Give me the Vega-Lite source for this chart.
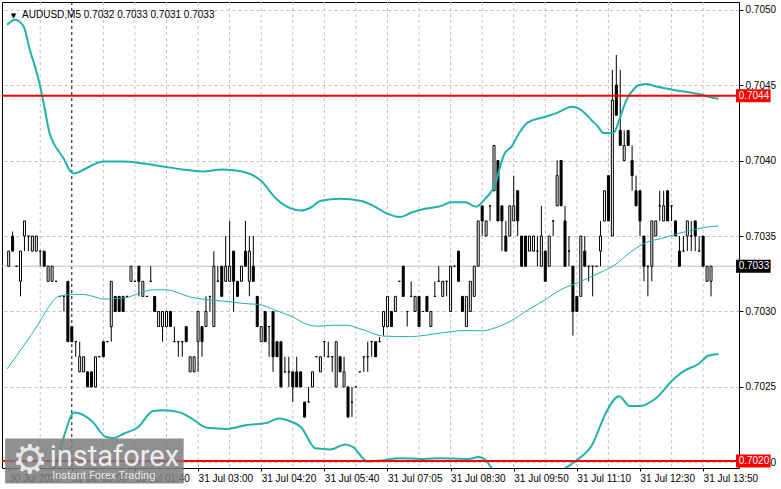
{
  "$schema": "https://vega.github.io/schema/vega-lite/v6.json",
  "width": 737,
  "height": 466,
  "autosize": "none",
  "padding": {"left": 2, "top": 2, "right": 42, "bottom": 21},
  "background": "white",
  "config": {
    "font": "Liberation Sans",
    "view": {"stroke": "black", "strokeWidth": 1, "fill": "white"},
    "axis": {"labelFont": "Liberation Sans", "labelFontSize": 10, "labelColor": "black", "tickColor": "black", "domainColor": "black", "title": null}
  },
  "datasets": {
    "candles": [
      {"i":-16,"o":0.7033,"h":0.7034,"l":0.7033,"c":0.7034},
      {"i":-15,"o":0.7035,"h":0.70353,"l":0.7034,"c":0.7034},
      {"i":-14,"o":0.7033,"h":0.7033,"l":0.7033,"c":0.7033},
      {"i":-13,"o":0.7032,"h":0.7034,"l":0.7031,"c":0.7034},
      {"i":-12,"o":0.7035,"h":0.7036,"l":0.7034,"c":0.7036},
      {"i":-11,"o":0.7035,"h":0.7035,"l":0.7034,"c":0.7035},
      {"i":-10,"o":0.7034,"h":0.7035,"l":0.7034,"c":0.7035},
      {"i":-9,"o":0.7034,"h":0.7035,"l":0.7034,"c":0.7035},
      {"i":-8,"o":0.7034,"h":0.7034,"l":0.7033,"c":0.7034},
      {"i":-7,"o":0.7034,"h":0.7034,"l":0.7033,"c":0.7033},
      {"i":-6,"o":0.7032,"h":0.7033,"l":0.7032,"c":0.7033},
      {"i":-5,"o":0.7032,"h":0.7033,"l":0.7032,"c":0.7033},
      {"i":-4,"o":0.7032,"h":0.7032,"l":0.7032,"c":0.7032},
      {"i":-3,"o":0.7031,"h":0.7031,"l":0.7031,"c":0.7031},
      {"i":-2,"o":0.7031,"h":0.7031,"l":0.7030,"c":0.7031},
      {"i":-1,"o":0.7032,"h":0.7032,"l":0.7028,"c":0.7028},
      {"i":0,"o":0.7029,"h":0.7029,"l":0.7028,"c":0.7028},
      {"i":1,"o":0.7028,"h":0.7028,"l":0.7027,"c":0.7028},
      {"i":2,"o":0.7026,"h":0.7028,"l":0.7026,"c":0.7027},
      {"i":3,"o":0.7026,"h":0.7027,"l":0.7026,"c":0.7027},
      {"i":4,"o":0.7026,"h":0.7026,"l":0.7025,"c":0.7025},
      {"i":5,"o":0.7026,"h":0.7026,"l":0.7025,"c":0.7025},
      {"i":6,"o":0.7025,"h":0.7027,"l":0.7025,"c":0.7027},
      {"i":7,"o":0.7027,"h":0.7027,"l":0.7027,"c":0.7027},
      {"i":8,"o":0.7028,"h":0.7028,"l":0.7027,"c":0.7027},
      {"i":9,"o":0.7028,"h":0.7028,"l":0.7028,"c":0.7028},
      {"i":10,"o":0.7029,"h":0.7032,"l":0.7028,"c":0.7032},
      {"i":11,"o":0.7031,"h":0.7031,"l":0.7030,"c":0.7030},
      {"i":12,"o":0.7031,"h":0.7031,"l":0.7030,"c":0.7030},
      {"i":13,"o":0.7031,"h":0.7031,"l":0.7030,"c":0.7030},
      {"i":14,"o":0.7031,"h":0.7031,"l":0.7031,"c":0.7031},
      {"i":15,"o":0.7032,"h":0.7033,"l":0.7032,"c":0.7033},
      {"i":16,"o":0.7032,"h":0.7032,"l":0.7032,"c":0.7032},
      {"i":17,"o":0.7033,"h":0.7033,"l":0.7031,"c":0.7032},
      {"i":18,"o":0.7031,"h":0.7032,"l":0.7031,"c":0.7032},
      {"i":19,"o":0.7031,"h":0.7031,"l":0.7031,"c":0.7031},
      {"i":20,"o":0.7032,"h":0.7033,"l":0.7032,"c":0.7032},
      {"i":21,"o":0.7031,"h":0.7031,"l":0.7030,"c":0.7030},
      {"i":22,"o":0.7029,"h":0.7030,"l":0.7029,"c":0.7030},
      {"i":23,"o":0.7029,"h":0.7030,"l":0.7028,"c":0.7030},
      {"i":24,"o":0.7029,"h":0.7030,"l":0.7029,"c":0.7030},
      {"i":25,"o":0.7030,"h":0.7030,"l":0.7029,"c":0.7029},
      {"i":26,"o":0.7028,"h":0.7029,"l":0.7028,"c":0.7028},
      {"i":27,"o":0.7028,"h":0.7028,"l":0.7027,"c":0.7028},
      {"i":28,"o":0.7028,"h":0.7028,"l":0.7027,"c":0.7028},
      {"i":29,"o":0.7029,"h":0.7029,"l":0.7028,"c":0.7028},
      {"i":30,"o":0.7026,"h":0.7027,"l":0.7026,"c":0.7027},
      {"i":31,"o":0.7026,"h":0.7027,"l":0.7026,"c":0.7027},
      {"i":32,"o":0.7028,"h":0.7030,"l":0.7026,"c":0.7030},
      {"i":33,"o":0.7029,"h":0.7029,"l":0.7027,"c":0.7028},
      {"i":34,"o":0.7029,"h":0.7031,"l":0.7029,"c":0.7030},
      {"i":35,"o":0.7031,"h":0.7031,"l":0.7030,"c":0.7031},
      {"i":36,"o":0.7029,"h":0.7034,"l":0.7029,"c":0.7033},
      {"i":37,"o":0.7032,"h":0.7033,"l":0.7032,"c":0.7032},
      {"i":38,"o":0.7033,"h":0.7033,"l":0.7031,"c":0.7031},
      {"i":39,"o":0.7032,"h":0.7035,"l":0.7032,"c":0.7033},
      {"i":40,"o":0.7032,"h":0.7036,"l":0.7032,"c":0.7033},
      {"i":41,"o":0.7034,"h":0.7034,"l":0.7030,"c":0.7032},
      {"i":42,"o":0.7032,"h":0.7032,"l":0.7031,"c":0.7031},
      {"i":43,"o":0.7032,"h":0.7033,"l":0.7032,"c":0.7033},
      {"i":44,"o":0.7034,"h":0.7036,"l":0.7033,"c":0.7033},
      {"i":45,"o":0.7032,"h":0.7035,"l":0.7031,"c":0.7034},
      {"i":46,"o":0.7033,"h":0.7035,"l":0.7032,"c":0.7032},
      {"i":47,"o":0.7031,"h":0.7031,"l":0.7029,"c":0.7029},
      {"i":48,"o":0.7028,"h":0.7029,"l":0.7028,"c":0.7029},
      {"i":49,"o":0.7030,"h":0.7030,"l":0.7028,"c":0.7028},
      {"i":50,"o":0.7029,"h":0.7029,"l":0.7027,"c":0.7029},
      {"i":51,"o":0.7030,"h":0.7030,"l":0.7026,"c":0.7027},
      {"i":52,"o":0.7028,"h":0.7028,"l":0.7027,"c":0.7027},
      {"i":53,"o":0.7028,"h":0.7028,"l":0.7025,"c":0.7025},
      {"i":54,"o":0.7026,"h":0.7027,"l":0.7026,"c":0.7026},
      {"i":55,"o":0.7026,"h":0.7027,"l":0.7025,"c":0.7026},
      {"i":56,"o":0.7026,"h":0.7026,"l":0.7024,"c":0.7025},
      {"i":57,"o":0.7026,"h":0.7027,"l":0.7025,"c":0.7025},
      {"i":58,"o":0.7026,"h":0.7026,"l":0.7025,"c":0.7025},
      {"i":59,"o":0.7024,"h":0.7024,"l":0.7023,"c":0.7023},
      {"i":60,"o":0.7024,"h":0.7025,"l":0.7024,"c":0.7024},
      {"i":61,"o":0.7025,"h":0.7026,"l":0.7025,"c":0.7026},
      {"i":62,"o":0.7027,"h":0.7027,"l":0.7027,"c":0.7027},
      {"i":63,"o":0.7026,"h":0.7027,"l":0.7026,"c":0.7027},
      {"i":64,"o":0.7028,"h":0.7028,"l":0.7027,"c":0.7028},
      {"i":65,"o":0.7027,"h":0.7028,"l":0.7027,"c":0.7027},
      {"i":66,"o":0.7027,"h":0.7027,"l":0.7026,"c":0.7027},
      {"i":67,"o":0.7025,"h":0.7028,"l":0.7025,"c":0.7028},
      {"i":68,"o":0.7027,"h":0.7027,"l":0.7026,"c":0.7026},
      {"i":69,"o":0.7025,"h":0.7027,"l":0.7025,"c":0.7026},
      {"i":70,"o":0.7025,"h":0.7025,"l":0.7023,"c":0.7023},
      {"i":71,"o":0.7024,"h":0.7025,"l":0.7023,"c":0.7024},
      {"i":72,"o":0.7025,"h":0.7025,"l":0.7025,"c":0.7025},
      {"i":73,"o":0.7026,"h":0.7026,"l":0.7026,"c":0.7026},
      {"i":74,"o":0.7027,"h":0.7027,"l":0.7026,"c":0.7027},
      {"i":75,"o":0.7027,"h":0.7028,"l":0.7026,"c":0.7027},
      {"i":76,"o":0.7028,"h":0.7028,"l":0.7027,"c":0.7028},
      {"i":77,"o":0.7028,"h":0.7028,"l":0.7027,"c":0.7027},
      {"i":78,"o":0.7028,"h":0.70283,"l":0.7028,"c":0.7028},
      {"i":79,"o":0.7029,"h":0.7030,"l":0.70284,"c":0.7030},
      {"i":80,"o":0.7029,"h":0.7031,"l":0.7029,"c":0.7031},
      {"i":81,"o":0.7030,"h":0.7030,"l":0.7029,"c":0.7029},
      {"i":82,"o":0.7030,"h":0.7031,"l":0.7030,"c":0.7031},
      {"i":83,"o":0.7032,"h":0.7032,"l":0.7032,"c":0.7032},
      {"i":84,"o":0.7033,"h":0.7033,"l":0.7031,"c":0.7031},
      {"i":85,"o":0.7030,"h":0.7030,"l":0.7029,"c":0.7030},
      {"i":86,"o":0.7031,"h":0.7032,"l":0.7031,"c":0.7031},
      {"i":87,"o":0.7030,"h":0.7031,"l":0.7030,"c":0.7031},
      {"i":88,"o":0.7031,"h":0.7031,"l":0.7029,"c":0.7029},
      {"i":89,"o":0.7030,"h":0.7030,"l":0.7030,"c":0.7030},
      {"i":90,"o":0.7031,"h":0.7031,"l":0.7030,"c":0.7030},
      {"i":91,"o":0.7029,"h":0.7030,"l":0.7029,"c":0.7030},
      {"i":92,"o":0.7031,"h":0.7032,"l":0.7031,"c":0.7031},
      {"i":93,"o":0.7032,"h":0.7033,"l":0.7032,"c":0.7032},
      {"i":94,"o":0.7031,"h":0.7032,"l":0.7031,"c":0.7032},
      {"i":95,"o":0.7032,"h":0.7032,"l":0.7031,"c":0.7032},
      {"i":96,"o":0.7030,"h":0.7033,"l":0.7030,"c":0.7033},
      {"i":97,"o":0.7033,"h":0.7033,"l":0.7033,"c":0.7033},
      {"i":98,"o":0.7034,"h":0.7034,"l":0.7032,"c":0.7032},
      {"i":99,"o":0.7031,"h":0.7031,"l":0.7030,"c":0.7030},
      {"i":100,"o":0.7029,"h":0.7031,"l":0.7029,"c":0.7031},
      {"i":101,"o":0.7030,"h":0.7032,"l":0.7030,"c":0.7032},
      {"i":102,"o":0.7031,"h":0.7033,"l":0.7031,"c":0.7033},
      {"i":103,"o":0.7033,"h":0.7036,"l":0.7033,"c":0.7036},
      {"i":104,"o":0.7037,"h":0.7037,"l":0.7035,"c":0.7036},
      {"i":105,"o":0.7035,"h":0.7036,"l":0.7035,"c":0.7036},
      {"i":106,"o":0.7037,"h":0.7037,"l":0.7036,"c":0.7037},
      {"i":107,"o":0.7038,"h":0.7041,"l":0.7038,"c":0.7041},
      {"i":108,"o":0.7040,"h":0.7040,"l":0.7036,"c":0.7036},
      {"i":109,"o":0.7037,"h":0.7037,"l":0.7034,"c":0.7036},
      {"i":110,"o":0.7035,"h":0.7036,"l":0.7034,"c":0.7034},
      {"i":111,"o":0.7035,"h":0.7037,"l":0.7035,"c":0.7037},
      {"i":112,"o":0.7036,"h":0.7039,"l":0.7036,"c":0.7037},
      {"i":113,"o":0.7038,"h":0.7038,"l":0.7035,"c":0.7036},
      {"i":114,"o":0.7035,"h":0.7035,"l":0.7033,"c":0.7033},
      {"i":115,"o":0.7035,"h":0.7035,"l":0.7033,"c":0.7033},
      {"i":116,"o":0.7034,"h":0.7035,"l":0.7034,"c":0.7035},
      {"i":117,"o":0.7034,"h":0.7035,"l":0.7034,"c":0.7035},
      {"i":118,"o":0.7034,"h":0.7035,"l":0.7033,"c":0.7034},
      {"i":119,"o":0.7033,"h":0.7037,"l":0.7033,"c":0.7035},
      {"i":120,"o":0.7034,"h":0.7034,"l":0.7032,"c":0.7032},
      {"i":121,"o":0.7033,"h":0.7035,"l":0.7033,"c":0.7035},
      {"i":122,"o":0.7036,"h":0.7036,"l":0.7035,"c":0.7036},
      {"i":123,"o":0.7037,"h":0.7040,"l":0.7037,"c":0.7039},
      {"i":124,"o":0.7040,"h":0.7040,"l":0.7037,"c":0.7037},
      {"i":125,"o":0.7036,"h":0.7037,"l":0.7033,"c":0.7033},
      {"i":126,"o":0.7034,"h":0.7035,"l":0.7033,"c":0.7034},
      {"i":127,"o":0.7033,"h":0.7033,"l":0.70284,"c":0.7030},
      {"i":128,"o":0.7031,"h":0.7031,"l":0.7030,"c":0.7030},
      {"i":129,"o":0.7031,"h":0.7035,"l":0.7031,"c":0.7035},
      {"i":130,"o":0.7034,"h":0.7035,"l":0.7033,"c":0.7033},
      {"i":131,"o":0.7033,"h":0.7033,"l":0.7032,"c":0.7033},
      {"i":132,"o":0.7033,"h":0.7033,"l":0.7031,"c":0.7033},
      {"i":133,"o":0.7033,"h":0.7033,"l":0.7033,"c":0.7033},
      {"i":134,"o":0.7034,"h":0.7036,"l":0.7033,"c":0.7035},
      {"i":135,"o":0.7036,"h":0.7038,"l":0.7036,"c":0.7038},
      {"i":136,"o":0.7039,"h":0.7039,"l":0.7036,"c":0.7036},
      {"i":137,"o":0.7035,"h":0.7046,"l":0.7035,"c":0.7044},
      {"i":138,"o":0.7045,"h":0.7047,"l":0.7043,"c":0.7043},
      {"i":139,"o":0.7042,"h":0.7046,"l":0.7041,"c":0.7041},
      {"i":140,"o":0.7040,"h":0.7042,"l":0.7040,"c":0.7041},
      {"i":141,"o":0.7042,"h":0.7042,"l":0.7041,"c":0.7041},
      {"i":142,"o":0.7040,"h":0.7041,"l":0.7038,"c":0.7039},
      {"i":143,"o":0.7038,"h":0.7039,"l":0.7037,"c":0.7037},
      {"i":144,"o":0.7038,"h":0.7038,"l":0.7035,"c":0.7036},
      {"i":145,"o":0.7035,"h":0.7035,"l":0.7032,"c":0.7033},
      {"i":146,"o":0.7033,"h":0.7033,"l":0.7031,"c":0.7033},
      {"i":147,"o":0.7033,"h":0.7036,"l":0.7032,"c":0.7036},
      {"i":148,"o":0.7035,"h":0.7036,"l":0.7035,"c":0.7036},
      {"i":149,"o":0.7037,"h":0.7038,"l":0.7036,"c":0.7037},
      {"i":150,"o":0.7036,"h":0.7038,"l":0.7036,"c":0.7037},
      {"i":151,"o":0.7038,"h":0.7038,"l":0.7036,"c":0.7036},
      {"i":152,"o":0.7037,"h":0.7037,"l":0.7036,"c":0.7037},
      {"i":153,"o":0.7036,"h":0.7036,"l":0.7035,"c":0.7035},
      {"i":154,"o":0.7034,"h":0.7035,"l":0.7033,"c":0.7033},
      {"i":155,"o":0.7034,"h":0.7035,"l":0.7034,"c":0.7034},
      {"i":156,"o":0.7035,"h":0.7036,"l":0.7034,"c":0.7036},
      {"i":157,"o":0.7035,"h":0.7036,"l":0.7034,"c":0.7035},
      {"i":158,"o":0.7036,"h":0.7036,"l":0.7034,"c":0.7035},
      {"i":159,"o":0.7034,"h":0.7035,"l":0.7034,"c":0.7034},
      {"i":160,"o":0.7035,"h":0.7035,"l":0.7033,"c":0.7033},
      {"i":161,"o":0.7032,"h":0.7033,"l":0.7032,"c":0.7033},
      {"i":162,"o":0.7032,"h":0.7033,"l":0.7031,"c":0.7033}
    ],
    "upper": [
      {"i":-16.4,"v":0.70490},{"i":-14.4,"v":0.704933},{"i":-13.2,"v":0.70492},{"i":-11.9,"v":0.704868},
      {"i":-10.7,"v":0.704739},{"i":-9.4,"v":0.704629},{"i":-8.2,"v":0.704512},{"i":-6.9,"v":0.70435},
      {"i":-5.7,"v":0.704188},{"i":-4.4,"v":0.704104},{"i":-3.2,"v":0.704058},{"i":-1.9,"v":0.704006},
      {"i":-0.7,"v":0.703941},{"i":0.6,"v":0.703915},{"i":3.1,"v":0.703941},{"i":5.6,"v":0.703974},
      {"i":8.1,"v":0.703993},{"i":13.1,"v":0.703993},{"i":18.1,"v":0.70398},{"i":23.1,"v":0.703961},
      {"i":28.1,"v":0.703941},{"i":33.1,"v":0.703928},{"i":38.1,"v":0.703941},{"i":43.1,"v":0.703928},
      {"i":48.1,"v":0.703863},{"i":51.8,"v":0.703747},{"i":55.6,"v":0.703682},{"i":58.1,"v":0.703669},
      {"i":60.6,"v":0.703689},{"i":63.1,"v":0.703734},{"i":68.1,"v":0.703747},{"i":73.1,"v":0.703734},
      {"i":76.3,"v":0.703702},{"i":79.8,"v":0.70365},{"i":83.1,"v":0.703626},{"i":86.3,"v":0.703658},
      {"i":89.8,"v":0.703682},{"i":93.1,"v":0.703695},{"i":96.3,"v":0.703723},{"i":99.8,"v":0.703723},
      {"i":102.3,"v":0.703695},{"i":103.1,"v":0.703702},{"i":104.7,"v":0.703745},{"i":106.4,"v":0.703799},
      {"i":107.6,"v":0.703864},{"i":108.2,"v":0.703928},{"i":109.7,"v":0.704047},{"i":111.4,"v":0.704091},
      {"i":113.5,"v":0.704188},{"i":115.6,"v":0.704253},{"i":119.3,"v":0.704285},{"i":123.1,"v":0.704318},
      {"i":126.8,"v":0.704356},{"i":129.3,"v":0.70433},{"i":131.8,"v":0.704266},{"i":133.1,"v":0.704233},
      {"i":134.8,"v":0.704183},{"i":137.3,"v":0.704183},{"i":138.8,"v":0.704274},{"i":140.6,"v":0.704404},
      {"i":142.3,"v":0.704469},{"i":143.8,"v":0.704501},{"i":145.6,"v":0.704507},{"i":148.1,"v":0.704491},
      {"i":152.3,"v":0.704469},{"i":156.3,"v":0.704452},{"i":159.8,"v":0.704436},{"i":161.8,"v":0.704419},
      {"i":163.9,"v":0.70441}
    ],
    "middle": [
      {"i":-16.4,"v":0.70262},{"i":-11.9,"v":0.702784},{"i":-8.6,"v":0.702913},{"i":-6.1,"v":0.703021},
      {"i":-3.6,"v":0.703097},{"i":-0.3,"v":0.703112},{"i":2.3,"v":0.703114},{"i":4.8,"v":0.703104},
      {"i":8.1,"v":0.703082},{"i":11.4,"v":0.703086},{"i":14.3,"v":0.703095},{"i":16.4,"v":0.703114},
      {"i":20.6,"v":0.703144},{"i":23.9,"v":0.703144},{"i":26.4,"v":0.703129},{"i":29.8,"v":0.703097},
      {"i":33.1,"v":0.703082},{"i":36.4,"v":0.703073},{"i":39.8,"v":0.703065},{"i":43.9,"v":0.703052},
      {"i":47.3,"v":0.703047},{"i":51.4,"v":0.70301},{"i":55.6,"v":0.702968},{"i":59.8,"v":0.702913},
      {"i":62.3,"v":0.702903},{"i":66.4,"v":0.702909},{"i":69.8,"v":0.702909},{"i":72.3,"v":0.702892},
      {"i":74.8,"v":0.70287},{"i":78.9,"v":0.702837},{"i":85.6,"v":0.702833},{"i":93.9,"v":0.702859},
      {"i":99.8,"v":0.702874},{"i":104.3,"v":0.702872},{"i":107.3,"v":0.702892},{"i":111.4,"v":0.702939},
      {"i":115.6,"v":0.70301},{"i":119.8,"v":0.703075},{"i":123.9,"v":0.703144},{"i":128.1,"v":0.70319},
      {"i":131.4,"v":0.703227},{"i":134.3,"v":0.703263},{"i":137.3,"v":0.703302},{"i":141.4,"v":0.703389},
      {"i":145.6,"v":0.703458},{"i":149.8,"v":0.703486},{"i":153.9,"v":0.703518},{"i":158.1,"v":0.703544},
      {"i":161.4,"v":0.703561},{"i":163.9,"v":0.703566}
    ],
    "lower": [
      {"i":-16.4,"v":0.7004},{"i":-8.2,"v":0.7014},{"i":-5.7,"v":0.70178},{"i":-3.8,"v":0.702006},
      {"i":-1.9,"v":0.702179},{"i":0.6,"v":0.70233},{"i":5.0,"v":0.702276},{"i":8.7,"v":0.702168},
      {"i":10.6,"v":0.702161},{"i":13.1,"v":0.70219},{"i":16.8,"v":0.702233},{"i":20.6,"v":0.702341},
      {"i":23.1,"v":0.702345},{"i":27.5,"v":0.70233},{"i":30.6,"v":0.702287},{"i":34.3,"v":0.702229},
      {"i":39.3,"v":0.702222},{"i":44.3,"v":0.702248},{"i":49.3,"v":0.702261},{"i":52.5,"v":0.702291},
      {"i":55.0,"v":0.702276},{"i":58.1,"v":0.702233},{"i":61.8,"v":0.702093},{"i":65.6,"v":0.702086},
      {"i":69.3,"v":0.702119},{"i":71.2,"v":0.702103},{"i":75.0,"v":0.702006},{"i":78.1,"v":0.702012},
      {"i":83.1,"v":0.702028},{"i":89.3,"v":0.702023},{"i":93.1,"v":0.702028},{"i":100.6,"v":0.702023},
      {"i":103.1,"v":0.702036},{"i":105.0,"v":0.702012},{"i":106.8,"v":0.70195},{"i":113.1,"v":0.70189},
      {"i":120.6,"v":0.70191},{"i":125.6,"v":0.70197},{"i":127.5,"v":0.702006},{"i":131.8,"v":0.702114},
      {"i":135.6,"v":0.702341},{"i":138.7,"v":0.702438},{"i":141.4,"v":0.702373},{"i":143.9,"v":0.702373},
      {"i":148.1,"v":0.702427},{"i":152.3,"v":0.702546},{"i":154.8,"v":0.7026},{"i":158.9,"v":0.702654},
      {"i":161.4,"v":0.702708},{"i":163.9,"v":0.702719}
    ],
    "vgrid": [
      {"i":-8},{"i":8},{"i":16},{"i":24},{"i":32},{"i":40},{"i":48},{"i":56},{"i":64},{"i":72},{"i":80},
      {"i":88},{"i":96},{"i":104},{"i":112},{"i":120},{"i":128},{"i":136},{"i":144},{"i":152},{"i":160}
    ],
    "tags": [
      {"p":0.70443,"lab":"0.7044","bg":"#ff0000"},
      {"p":0.7033,"lab":"0.7033","bg":"#000000"},
      {"p":0.70201,"lab":"0.7020","bg":"#ff0000"}
    ]
  },
  "layer": [
    {
      "data": {"name": "vgrid"},
      "mark": {"type": "rule", "color": "#c0c0c0", "strokeWidth": 1, "strokeDash": [3, 3]},
      "encoding": {
        "x": {
          "field": "i", "type": "quantitative",
          "scale": {"domain": [-16.425, 167.825], "nice": false, "zero": false},
          "axis": {
            "orient": "bottom",
            "values": [-16, 0, 16, 32, 48, 64, 80, 96, 112, 128, 144, 160],
            "labelExpr": "['30 Jul 2026','31 Jul 00:00','31 Jul 01:40','31 Jul 03:00','31 Jul 04:20','31 Jul 05:40','31 Jul 07:05','31 Jul 08:30','31 Jul 09:50','31 Jul 11:10','31 Jul 12:30','31 Jul 13:50'][round((datum.value + 16) / 16)]",
            "labelAlign": "left",
            "labelBaseline": "top",
            "labelFlush": false,
            "labelOverlap": false,
            "labelBound": false,
            "tickSize": 3,
            "labelPadding": 2,
            "grid": false,
            "domain": false
          }
        }
      }
    },
    {
      "data": {"values": [{"i": 0}]},
      "mark": {"type": "rule", "color": "black", "strokeWidth": 1, "strokeDash": [3, 3]},
      "encoding": {"x": {"field": "i", "type": "quantitative"}}
    },
    {
      "data": {"values": [{"p": 0.7033}]},
      "mark": {"type": "rule", "color": "#bfbfbf", "strokeWidth": 1},
      "encoding": {
        "y": {
          "field": "p", "type": "quantitative",
          "scale": {"domain": [0.701996, 0.7050175], "nice": false, "zero": false},
          "axis": {
            "orient": "right",
            "values": [0.702, 0.7025, 0.703, 0.7035, 0.704, 0.7045, 0.705],
            "format": ".4f",
            "grid": true,
            "gridColor": "#c0c0c0",
            "gridDash": [3, 3],
            "tickSize": 4,
            "labelPadding": 2,
            "labelFlush": false,
            "labelOverlap": false,
            "domain": false
          }
        }
      }
    },
    {
      "data": {"name": "candles"},
      "mark": {"type": "rule", "color": "black", "strokeWidth": 1},
      "encoding": {
        "x": {"field": "i", "type": "quantitative"},
        "y": {"field": "l", "type": "quantitative"},
        "y2": {"field": "h"}
      }
    },
    {
      "data": {"name": "candles"},
      "mark": {"type": "bar", "width": 2, "stroke": "black", "strokeWidth": 1},
      "encoding": {
        "x": {"field": "i", "type": "quantitative"},
        "y": {"field": "o", "type": "quantitative"},
        "y2": {"field": "c"},
        "fill": {"condition": {"test": "datum.c > datum.o", "value": "white"}, "value": "black"}
      }
    },
    {
      "data": {"name": "upper"},
      "mark": {"type": "line", "color": "#20b2aa", "strokeWidth": 2, "interpolate": "monotone", "clip": true},
      "encoding": {
        "x": {"field": "i", "type": "quantitative"},
        "y": {"field": "v", "type": "quantitative"}
      }
    },
    {
      "data": {"name": "middle"},
      "mark": {"type": "line", "color": "#20b2aa", "strokeWidth": 1, "interpolate": "monotone", "clip": true},
      "encoding": {
        "x": {"field": "i", "type": "quantitative"},
        "y": {"field": "v", "type": "quantitative"}
      }
    },
    {
      "data": {"name": "lower"},
      "mark": {"type": "line", "color": "#20b2aa", "strokeWidth": 2, "interpolate": "monotone", "clip": true},
      "encoding": {
        "x": {"field": "i", "type": "quantitative"},
        "y": {"field": "v", "type": "quantitative"}
      }
    },
    {
      "data": {"values": [{"p": 0.70443}, {"p": 0.70201}]},
      "mark": {"type": "rule", "color": "#ff0000", "strokeWidth": 2},
      "encoding": {"y": {"field": "p", "type": "quantitative"}}
    },
    {
      "data": {"name": "tags"},
      "mark": {"type": "bar", "height": 13},
      "encoding": {
        "x": {"datum": 168.33, "type": "quantitative"},
        "x2": {"datum": 177.1},
        "y": {"field": "p", "type": "quantitative"},
        "color": {"field": "bg", "type": "nominal", "scale": null}
      }
    },
    {
      "data": {"name": "tags"},
      "mark": {"type": "text", "color": "white", "align": "left", "baseline": "middle", "fontSize": 10, "font": "Liberation Sans"},
      "encoding": {
        "x": {"datum": 169.0, "type": "quantitative"},
        "y": {"field": "p", "type": "quantitative"},
        "text": {"field": "lab"}
      }
    },
    {
      "data": {"values": [{"t": "▼"}]},
      "mark": {"type": "text", "color": "black", "align": "center", "baseline": "middle", "fontSize": 7, "font": "DejaVu Sans"},
      "encoding": {
        "x": {"datum": -14.8, "type": "quantitative"},
        "y": {"datum": 0.704955, "type": "quantitative"},
        "text": {"field": "t"}
      }
    },
    {
      "data": {"values": [{"t": "AUDUSD,M5  0.7032 0.7033 0.7031 0.7033"}]},
      "mark": {"type": "text", "color": "black", "align": "left", "baseline": "middle", "fontSize": 10, "font": "Liberation Sans"},
      "encoding": {
        "x": {"datum": -12.6, "type": "quantitative"},
        "y": {"datum": 0.704962, "type": "quantitative"},
        "text": {"field": "t"}
      }
    },
    {
      "data": {"values": [{"t": "watermark"}]},
      "mark": {"type": "rect", "fill": "#7d7d7d", "opacity": 0.85},
      "encoding": {
        "x": {"datum": -16.9, "type": "quantitative"},
        "x2": {"datum": 28.35},
        "y": {"datum": 0.702158, "type": "quantitative"},
        "y2": {"datum": 0.70186}
      }
    },
    {
      "data": {"values": [{"t": "⚙"}]},
      "mark": {"type": "text", "color": "#e6e6e6", "align": "center", "baseline": "middle", "fontSize": 40, "font": "DejaVu Sans"},
      "encoding": {
        "x": {"datum": -10.6, "type": "quantitative"},
        "y": {"datum": 0.702009, "type": "quantitative"},
        "text": {"field": "t"}
      }
    },
    {
      "data": {"values": [{"t": "instaforex"}]},
      "mark": {"type": "text", "color": "#ececec", "align": "center", "baseline": "middle", "fontSize": 29, "font": "Roboto"},
      "encoding": {
        "x": {"datum": 10.8, "type": "quantitative"},
        "y": {"datum": 0.702035, "type": "quantitative"},
        "text": {"field": "t"}
      }
    },
    {
      "data": {"values": [{"t": "Instant Forex Trading"}]},
      "mark": {"type": "text", "color": "#e6e6e6", "align": "center", "baseline": "middle", "fontSize": 11, "font": "Roboto"},
      "encoding": {
        "x": {"datum": 8.1, "type": "quantitative"},
        "y": {"datum": 0.701912, "type": "quantitative"},
        "text": {"field": "t"}
      }
    }
  ]
}
